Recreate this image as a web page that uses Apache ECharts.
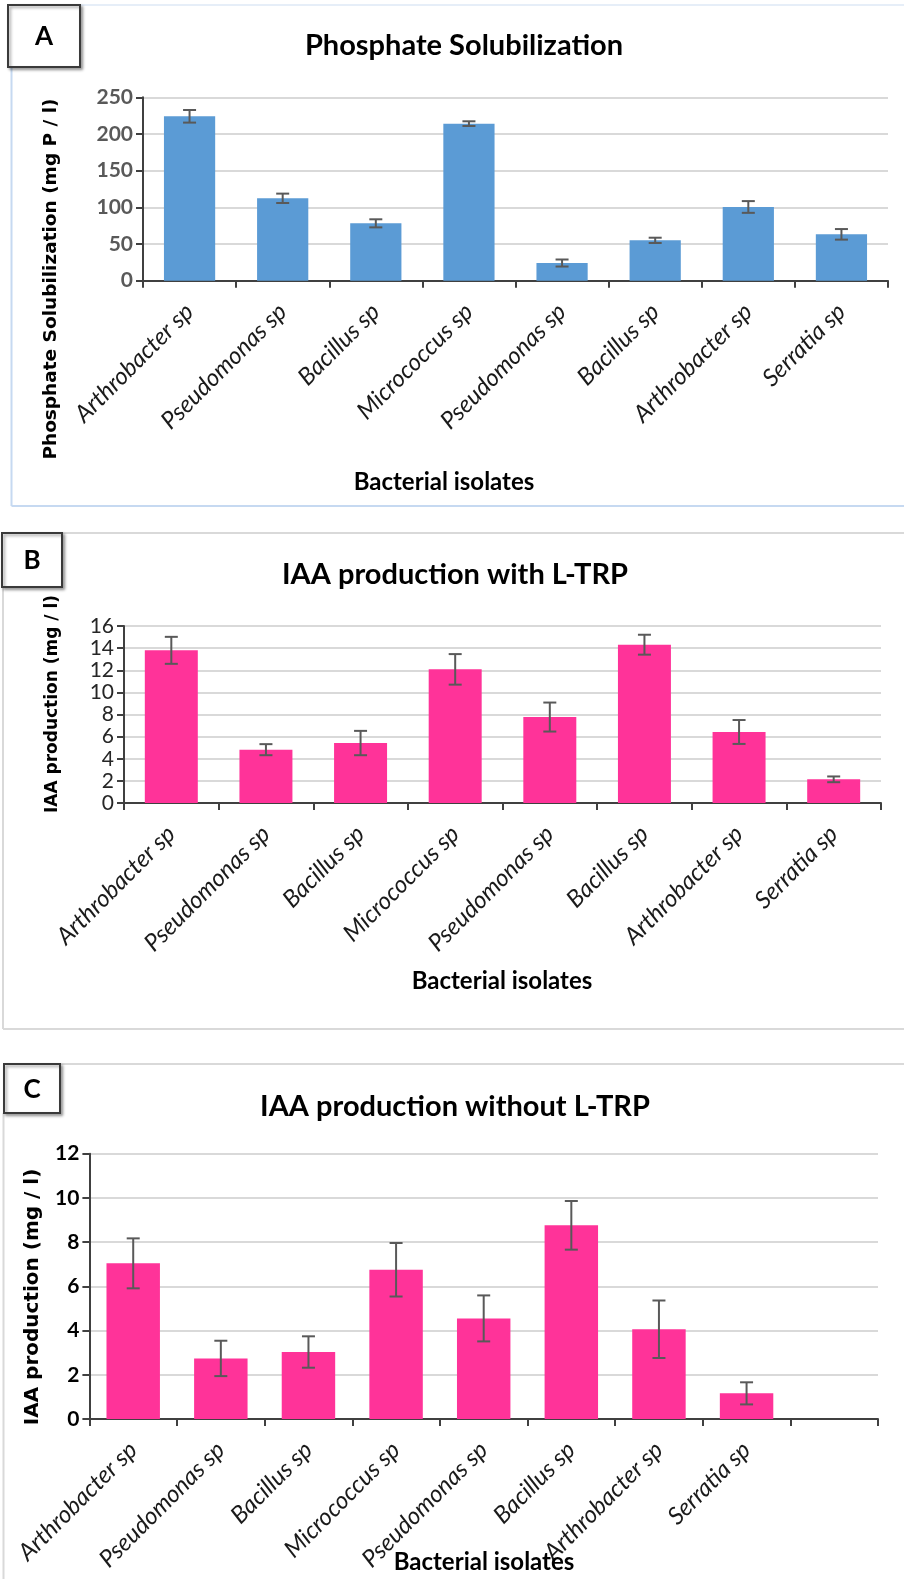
<!DOCTYPE html>
<html>
<head>
<meta charset="utf-8">
<script src="https://cdn.jsdelivr.net/npm/echarts@6/dist/echarts.min.js"></script>
<style>
html,body{margin:0;padding:0;background:#fff;}
#main{width:904px;height:1579px;}
</style>
</head>
<body>
<div id="main"></div>
<script>
const categories = ['Arthrobacter sp','Pseudomonas sp','Bacillus sp','Micrococcus sp','Pseudomonas sp','Bacillus sp','Arthrobacter sp','Serratia sp'];
const categoriesC = ['Arthrobacter sp','Pseudomonas sp','Bacillus sp','Micrococcus sp','Pseudomonas sp','Bacillus sp','Arthrobacter sp','Serratia sp',''];
const phosphateValues = [224.1,112.3,78.2,214.1,24.1,55.0,100.5,63.2];
const phosphateErr = [8.6,6.4,5.5,3.2,4.8,3.6,8.0,7.2];
const iaaWithValues = [13.8,4.82,5.42,12.08,7.77,14.31,6.42,2.14];
const iaaWithErr = [1.22,0.5,1.1,1.38,1.31,0.9,1.08,0.26];
const iaaWithoutValues = [7.04,2.74,3.03,6.75,4.55,8.76,4.06,1.16];
const iaaWithoutErr = [1.13,0.8,0.71,1.21,1.04,1.1,1.3,0.5];
const titles = ['Phosphate Solubilization','IAA production with L-TRP','IAA production without L-TRP'];
const yNames = ['Phosphate Solubilization (mg P / l)','IAA production (mg / l)','IAA production (mg / l)'];
const xName = 'Bacterial isolates';
const panelLetters = ['A','B','C'];

const chart = echarts.init(document.getElementById('main'), null, {renderer:'canvas'});

function errSeries(idx, vals, errs){
  return {
    type:'custom', xAxisIndex:idx, yAxisIndex:idx, z:10, silent:true,
    data: vals.map((v,i)=>[i, v, errs[i]]),
    encode:{x:0,y:1},
    renderItem:function(params, api){
      const i = api.value(0), v = api.value(1), e = api.value(2);
      const top = api.coord([i, v+e]);
      const bot = api.coord([i, v-e]);
      const hw = 6.5;
      const st = {stroke:'#595959', lineWidth:2};
      return {type:'group', children:[
        {type:'line', shape:{x1:top[0],y1:top[1],x2:bot[0],y2:bot[1]}, style:st},
        {type:'line', shape:{x1:top[0]-hw,y1:top[1],x2:top[0]+hw,y2:top[1]}, style:st},
        {type:'line', shape:{x1:bot[0]-hw,y1:bot[1],x2:bot[0]+hw,y2:bot[1]}, style:st}
      ]};
    }
  };
}

const xLabel = {rotate:45, fontFamily:'Lato', fontStyle:'italic', fontSize:24, color:'#1a1a1a', margin:27, interval:0};
function xAxisCfg(idx, cats){
  return {type:'category', gridIndex:idx, data:cats,
    axisLine:{lineStyle:{color:'#404040', width:2}},
    axisTick:{show:true, length:7, lineStyle:{color:'#404040', width:2}},
    axisLabel:xLabel};
}
function yAxisCfg(idx, max, interval, labelStyle){
  return {type:'value', gridIndex:idx, min:0, max:max, interval:interval,
    axisLine:{show:true, lineStyle:{color:'#404040', width:2}},
    axisTick:{show:true, length:7, lineStyle:{color:'#404040', width:2}},
    splitLine:{lineStyle:{color:'#d9d9d9', width:2}},
    axisLabel:Object.assign({margin:10, fontFamily:'Lato', fontSize:21}, labelStyle)};
}

function box(x,y,w,h,letter){
  return [
    {type:'rect', shape:{x:x,y:y,width:w,height:h}, style:{fill:'#fff', stroke:'#3a3a3a', lineWidth:2, shadowColor:'rgba(0,0,0,0.35)', shadowBlur:3, shadowOffsetX:2, shadowOffsetY:2}, z:20},
    {type:'text', x:x+w/2, y:y+h/2+1, style:{text:letter, fill:'#000', font:'bold 26px Lato', textAlign:'center', textVerticalAlign:'middle'}, z:21}
  ];
}
function vtext(x,y,text,font){
  return {type:'text', x:x, y:y, rotation:Math.PI/2, style:{text:text, fill:'#000', font:font, textAlign:'center', textVerticalAlign:'middle'}, z:15};
}
function htext(x,y,text,font){
  return {type:'text', x:x, y:y, style:{text:text, fill:'#000', font:font, textAlign:'center', textVerticalAlign:'middle'}, z:15};
}
function ln(x1,y1,x2,y2,color){
  return {type:'line', shape:{x1:x1,y1:y1,x2:x2,y2:y2}, style:{stroke:color, lineWidth:2}, z:1};
}

const graphics = [].concat(
  ln(80,5,904,5,'#e6eef8'), ln(11.5,68,11.5,506,'#c6d9f1'), ln(11.5,506,904,506,'#c6d9f1'),
  ln(62,533,904,533,'#d9d9d9'), ln(3,587,3,1029,'#d9d9d9'), ln(3,1029,904,1029,'#d9d9d9'),
  ln(60,1064,904,1064,'#d9d9d9'), ln(3.5,1113,3.5,1579,'#d9d9d9'),
  box(8,5,72,62,panelLetters[0]),
  box(2,533,60,54,panelLetters[1]),
  box(4,1064,56,49,panelLetters[2]),
  [
    htext(464,46,titles[0],'bold 29px Lato'),
    htext(455,575,titles[1],'bold 29px Lato'),
    htext(455,1107,titles[2],'bold 29px Lato'),
    vtext(51,279,yNames[0],'bold 18.5px "DejaVu Sans"'),
    vtext(53,704,yNames[1],'bold 17px "DejaVu Sans"'),
    vtext(33,1297,yNames[2],'bold 20px "DejaVu Sans"'),
    htext(444,482,xName,'bold 24px Lato'),
    htext(502,981,xName,'bold 24px Lato'),
    htext(484,1562,xName,'bold 24px Lato')
  ]
);

const option = {
  backgroundColor:'#ffffff',
  animation:false,
  grid:[
    {left:143, right:16, top:97.3, bottom:1579-280.7},
    {left:124, right:23, top:626, bottom:1579-803},
    {left:89.4, right:26, top:1153.7, bottom:1579-1419}
  ],
  xAxis:[xAxisCfg(0,categories), xAxisCfg(1,categories), xAxisCfg(2,categoriesC)],
  yAxis:[
    yAxisCfg(0,250,50,{color:'#595959', fontWeight:'bold'}),
    yAxisCfg(1,16,2,{color:'#262626', fontWeight:'normal'}),
    yAxisCfg(2,12,2,{color:'#000', fontWeight:'bold'})
  ],
  series:[
    {type:'bar', xAxisIndex:0, yAxisIndex:0, data:phosphateValues, barCategoryGap:'45%', itemStyle:{color:'#5b9bd5'}},
    errSeries(0, phosphateValues, phosphateErr),
    {type:'bar', xAxisIndex:1, yAxisIndex:1, data:iaaWithValues, barCategoryGap:'44%', itemStyle:{color:'#ff3399'}},
    errSeries(1, iaaWithValues, iaaWithErr),
    {type:'bar', xAxisIndex:2, yAxisIndex:2, data:iaaWithoutValues, barCategoryGap:'39%', itemStyle:{color:'#ff3399'}},
    errSeries(2, iaaWithoutValues, iaaWithoutErr)
  ],
  graphic:{elements:graphics}
};
chart.setOption(option);
</script>
</body>
</html>
